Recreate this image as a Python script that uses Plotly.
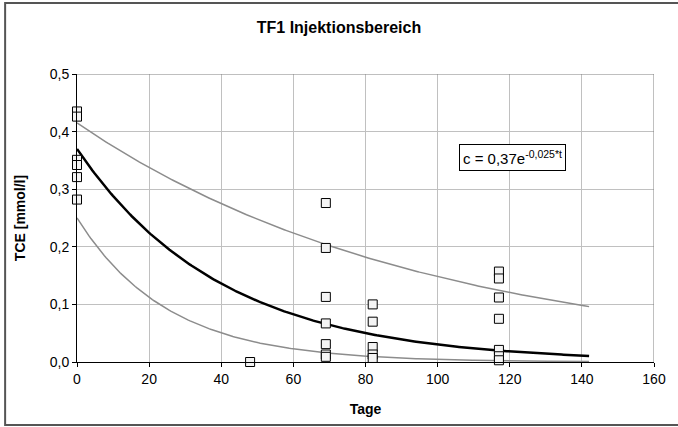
import numpy as np
import plotly.graph_objects as go

# Measured data (Tage, TCE mmol/l)
days = [0, 0, 0, 0, 0, 0,
        48,
        69, 69, 69, 69, 69, 69, 69,
        82, 82, 82, 82, 82,
        117, 117, 117, 117, 117, 117, 117]
tce = [0.435, 0.426, 0.351, 0.342, 0.321, 0.282,
       0.0,
       0.276, 0.198, 0.113, 0.067, 0.031, 0.013, 0.009,
       0.100, 0.070, 0.026, 0.013, 0.007,
       0.157, 0.145, 0.112, 0.075, 0.021, 0.010, 0.003]

# Exponential fit c = a * exp(-k t) and band curves
fit_a, fit_k = 0.37, 0.025
upper_a, upper_k = 0.415, 0.0103
lower_a, lower_k = 0.25, 0.04
t_end = 142

x_ticks = [0, 20, 40, 60, 80, 100, 120, 140, 160]
x_ticktext = ["0", "20", "40", "60", "80", "100", "120", "140", "160"]
y_ticks = [0.0, 0.1, 0.2, 0.3, 0.4, 0.5]
y_ticktext = ["0,0", "0,1", "0,2", "0,3", "0,4", "0,5"]

t = np.linspace(0, t_end, 300)

fig = go.Figure()
fig.add_trace(go.Scatter(x=t, y=upper_a * np.exp(-upper_k * t), mode="lines",
                         line=dict(color="#8c8c8c", width=1.5), showlegend=False))
fig.add_trace(go.Scatter(x=t, y=lower_a * np.exp(-lower_k * t), mode="lines",
                         line=dict(color="#8c8c8c", width=1.5), showlegend=False))
fig.add_trace(go.Scatter(x=t, y=fit_a * np.exp(-fit_k * t), mode="lines",
                         line=dict(color="black", width=2.5), showlegend=False))
fig.add_trace(go.Scatter(x=days, y=tce, mode="markers", cliponaxis=False,
                         marker=dict(symbol="square", size=9, color="#f4f4f4",
                                     line=dict(color="black", width=1)),
                         showlegend=False))

font_family = "Liberation Sans, Arial, sans-serif"

W, H = 678, 427
L, R, T, B = 77, 15, 74, 65
pw, ph = W - L - R, H - T - B

def px(x):
    return (x - L) / pw

def py(y):
    return (H - B - y) / ph

fig.update_layout(
    width=W, height=H,
    margin=dict(l=L, r=R, t=T, b=B),
    paper_bgcolor="white", plot_bgcolor="white",
    font=dict(family=font_family, size=14, color="black"),
    title=dict(text="<b>TF1 Injektionsbereich</b>", x=0.5, xanchor="center",
               y=1 - 27 / H, yanchor="middle",
               font=dict(size=16, family=font_family, color="black")),
    xaxis=dict(range=[0, 160], tickvals=x_ticks, ticktext=x_ticktext,
               showgrid=True, gridcolor="#c0c0c0", gridwidth=1,
               showline=True, linecolor="black", linewidth=1,
               ticks="outside", ticklen=4, tickcolor="black",
               zeroline=False,
               title=dict(text="<b>Tage</b>", font=dict(size=14), standoff=18)),
    yaxis=dict(range=[0, 0.5], tickvals=y_ticks, ticktext=y_ticktext,
               showgrid=True, gridcolor="#c0c0c0", gridwidth=1,
               showline=True, linecolor="black", linewidth=1,
               ticks="outside", ticklen=4, tickcolor="black",
               zeroline=False,
               title=dict(text="<b>TCE [mmol/l]</b>", font=dict(size=14), standoff=20)),
    shapes=[
        dict(type="line", xref="x", yref="y", x0=0, x1=160, y0=0.5, y1=0.5,
             line=dict(color="#808080", width=1)),
        dict(type="line", xref="x", yref="y", x0=160, x1=160, y0=0, y1=0.5,
             line=dict(color="#808080", width=1)),
        dict(type="rect", xref="paper", yref="paper",
             x0=px(4), x1=px(700), y0=py(425), y1=py(3),
             line=dict(color="#555555", width=2), fillcolor="rgba(0,0,0,0)",
             layer="below"),
    ],
    annotations=[
        dict(text="c = 0,37e<sup>-0,025*t</sup>", xref="paper", yref="paper",
             x=px(519), y=py(157.5), xanchor="center", yanchor="middle",
             showarrow=False, font=dict(size=15, family=font_family),
             bgcolor="white", bordercolor="black", borderwidth=1, borderpad=3),
    ],
)

fig.write_html("out.html")
